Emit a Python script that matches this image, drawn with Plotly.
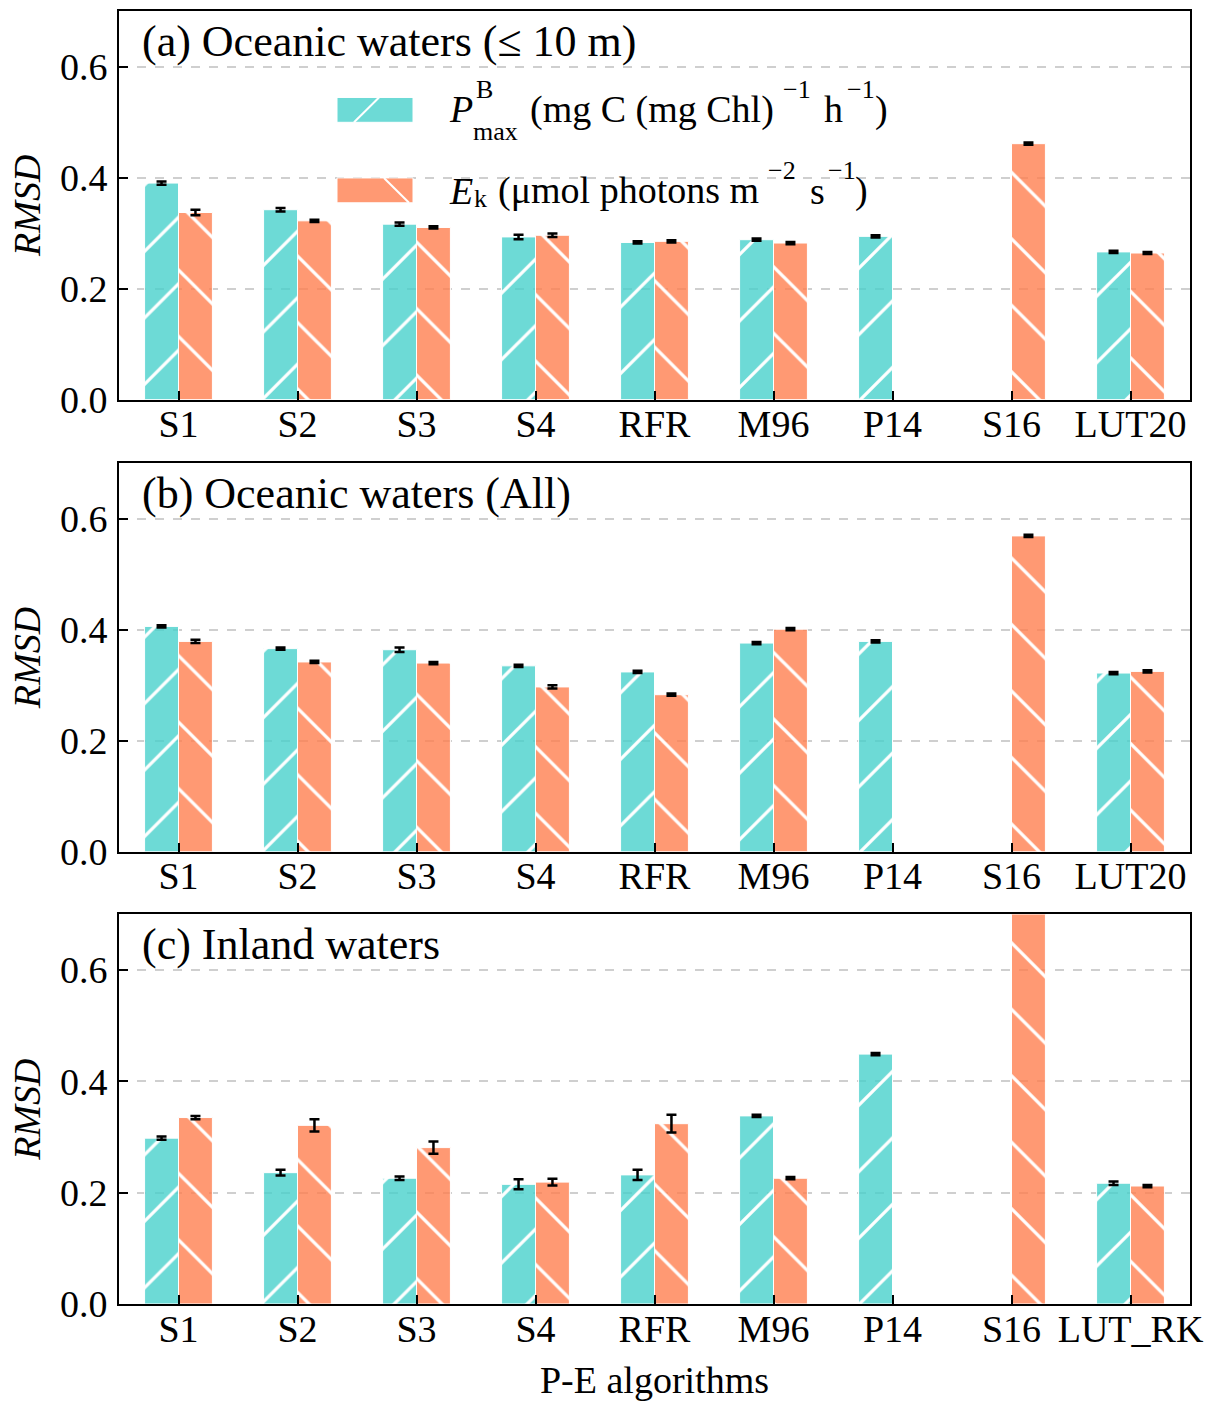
import plotly.graph_objects as go
from plotly.subplots import make_subplots

# Algorithm names on the x axis
categories_ocean = ["S1", "S2", "S3", "S4", "RFR", "M96", "P14", "S16", "LUT20"]
categories_inland = ["S1", "S2", "S3", "S4", "RFR", "M96", "P14", "S16", "LUT_RK"]

# (a) Oceanic waters (<= 10 m)
pmax_a = [0.390, 0.342, 0.316, 0.293, 0.283, 0.288, 0.294, None, 0.266]
pmax_a_err = [0.003, 0.003, 0.003, 0.004, 0.002, 0.002, 0.002, None, 0.002]
ek_a = [0.337, 0.322, 0.310, 0.296, 0.285, 0.282, None, 0.461, 0.264]
ek_a_err = [0.005, 0.002, 0.002, 0.003, 0.002, 0.002, None, 0.002, 0.002]

# (b) Oceanic waters (All)
pmax_b = [0.406, 0.366, 0.364, 0.335, 0.324, 0.376, 0.379, None, 0.322]
pmax_b_err = [0.002, 0.002, 0.004, 0.002, 0.002, 0.002, 0.002, None, 0.002]
ek_b = [0.379, 0.342, 0.340, 0.297, 0.283, 0.401, None, 0.569, 0.325]
ek_b_err = [0.003, 0.002, 0.002, 0.003, 0.002, 0.002, None, 0.002, 0.002]

# (c) Inland waters
pmax_c = [0.298, 0.236, 0.226, 0.215, 0.232, 0.338, 0.449, None, 0.217]
pmax_c_err = [0.003, 0.005, 0.003, 0.009, 0.009, 0.002, 0.002, None, 0.003]
ek_c = [0.335, 0.321, 0.281, 0.219, 0.324, 0.226, None, 0.780, 0.212]
ek_c_err = [0.003, 0.011, 0.011, 0.006, 0.016, 0.002, None, 0.010, 0.002]

panel_titles = ["(a) Oceanic waters (≤ 10 m)", "(b) Oceanic waters (All)", "(c) Inland waters"]

PMAX_COLOR = "rgba(72,209,204,0.8)"
EK_COLOR = "rgba(255,127,80,0.8)"
FONT = "Liberation Serif"
FS = 38

panels = [
    (categories_ocean, pmax_a, pmax_a_err, ek_a, ek_a_err),
    (categories_ocean, pmax_b, pmax_b_err, ek_b, ek_b_err),
    (categories_inland, pmax_c, pmax_c_err, ek_c, ek_c_err),
]

fig = make_subplots(rows=3, cols=1)

HATCH_SIZE = 47
HATCH_SOLIDITY = 0.07

for i, (cats, pm, pm_err, ek, ek_err) in enumerate(panels, start=1):
    fig.add_trace(go.Bar(
        x=cats, y=pm, name="Pmax", showlegend=False,
        marker=dict(color=PMAX_COLOR, line=dict(color="white", width=1),
                    pattern=dict(shape="/", fgcolor="white", fgopacity=1,
                                 size=HATCH_SIZE, solidity=HATCH_SOLIDITY)),
        error_y=dict(type="data", array=pm_err, color="black",
                     thickness=2.5, width=5),
    ), row=i, col=1)
    fig.add_trace(go.Bar(
        x=cats, y=ek, name="Ek", showlegend=False,
        marker=dict(color=EK_COLOR, line=dict(color="white", width=1),
                    pattern=dict(shape="\\", fgcolor="white", fgopacity=1,
                                 size=HATCH_SIZE, solidity=HATCH_SOLIDITY)),
        error_y=dict(type="data", array=ek_err, color="black",
                     thickness=2.5, width=5),
    ), row=i, col=1)

domains = [[0.6995, 1.0], [0.3497, 0.6503], [0.0, 0.3013]]
axis_font = dict(family=FONT, size=FS, color="black")

for i in range(1, 4):
    xa = "xaxis" if i == 1 else f"xaxis{i}"
    ya = "yaxis" if i == 1 else f"yaxis{i}"
    fig.layout[ya].update(
        domain=domains[i - 1], range=[0, 0.7], dtick=0.2, tick0=0,
        tickformat=".1f", ticks="inside", ticklen=9, tickwidth=2,
        tickcolor="black", showline=True, linecolor="black", linewidth=2,
        mirror=True, showgrid=True, gridcolor="#cfcfcf", gridwidth=1.5,
        griddash="dash", zeroline=False, tickfont=axis_font,
        ticklabelstandoff=2,
        title=dict(text="<i>RMSD</i>", font=dict(family=FONT, size=FS),
                   standoff=8),
    )
    fig.layout[xa].update(
        range=[-0.5, 8.5], ticks="inside", ticklen=9, tickwidth=2,
        tickcolor="black", showline=True, linecolor="black", linewidth=2,
        mirror=True, showgrid=False, tickfont=axis_font,
        ticklabelstandoff=-10,
    )
    xref = "x domain" if i == 1 else f"x{i} domain"
    yref = "y domain" if i == 1 else f"y{i} domain"
    fig.add_annotation(
        text=panel_titles[i - 1], xref=xref, yref=yref, x=0.0196, y=0.922,
        xanchor="left", yanchor="middle", showarrow=False,
        font=dict(family=FONT, size=44, color="black"),
    )

fig.layout.xaxis3.title = dict(text="P-E algorithms",
                               font=dict(family=FONT, size=FS), standoff=18)

# Legend drawn in panel (a): hatched swatches plus labels
def dx(px):
    return (px - 119) / 1071


def dy(py):
    return (400 - py) / 391


fig.add_shape(type="rect", xref="x domain", yref="y domain",
              x0=dx(337), x1=dx(413), y0=dy(121), y1=dy(96),
              fillcolor=PMAX_COLOR, line=dict(color="white", width=1))
fig.add_shape(type="line", xref="x domain", yref="y domain",
              x0=dx(354), x1=dx(379), y0=dy(121), y1=dy(96),
              line=dict(color="white", width=2))
fig.add_shape(type="rect", xref="x domain", yref="y domain",
              x0=dx(337), x1=dx(413), y0=dy(202), y1=dy(177),
              fillcolor=EK_COLOR, line=dict(color="white", width=1))
fig.add_shape(type="line", xref="x domain", yref="y domain",
              x0=dx(384), x1=dx(409), y0=dy(177), y1=dy(202),
              line=dict(color="white", width=2))

SUB = 26
legend_pieces = [
    ("<i>P</i>", 447, 108, FS),
    ("B", 474, 88, SUB),
    ("max", 471, 130, SUB),
    ("(mg C (mg Chl)", 528, 108, FS),
    ("−1", 781, 88, SUB),
    ("h", 822, 108, FS),
    ("−1", 845, 88, SUB),
    (")", 873, 108, FS),
    ("<i>E</i>", 447, 190, FS),
    ("k", 472, 198, SUB),
    ("(μmol photons m", 496, 190, FS),
    ("−2", 766, 170, SUB),
    ("s", 808, 190, FS),
    ("−1", 826, 170, SUB),
    (")", 853, 190, FS),
]
for txt, px, py, size in legend_pieces:
    fig.add_annotation(text=txt, xref="x domain", yref="y domain",
                       x=dx(px), y=dy(py), xanchor="left", yanchor="middle",
                       showarrow=False,
                       font=dict(family=FONT, size=size, color="black"))

fig.update_layout(
    width=1214, height=1403,
    margin=dict(l=119, r=24, t=9, b=93),
    barmode="group", bargap=0.43, bargroupgap=0,
    plot_bgcolor="white", paper_bgcolor="white",
    font=dict(family=FONT, size=FS, color="black"),
    showlegend=False,
)

fig.write_html("out.html")
